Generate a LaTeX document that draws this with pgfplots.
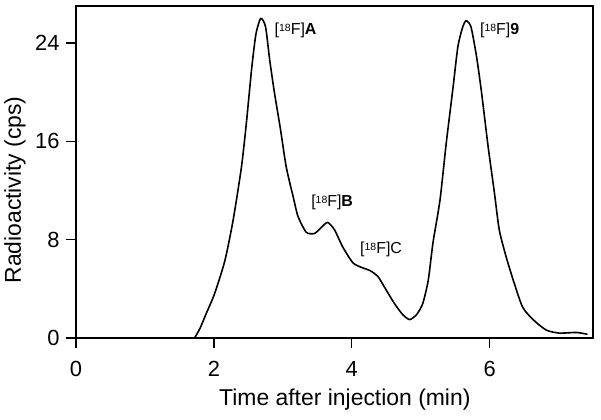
\documentclass[border=0pt]{standalone}
\usepackage{fontspec}
\setmainfont{Liberation Sans}
\usepackage{pgfplots}
\pgfplotsset{compat=1.18}
\newcommand{\ann}[1]{[{\fontsize{10.5}{10.5}\selectfont\raisebox{0.6ex}{18}}F]#1}
\begin{document}
\begin{tikzpicture}
\begin{axis}[
  width=517bp, height=332bp, scale only axis,
  xmin=0, xmax=7.5, ymin=0, ymax=27,
  xtick={0,2,4,6}, ytick={0,8,16,24},
  tick pos=left, tick align=outside, major tick length=10bp,
  axis line style={line width=1.5bp},
  every tick/.style={black, line width=1.3bp},
  /pgf/number format/assume math mode=true,
  ticklabel style={font=\fontsize{22}{24}\selectfont},
  xticklabel style={yshift=-10bp},
  yticklabel style={xshift=-3bp},
  label style={font=\fontsize{23}{26}\selectfont},
  xlabel={Time after injection (min)},
  ylabel={Radioactivity (cps)},
  xlabel style={at={(axis description cs:0.52,-0.202)}, anchor=base},
  ylabel style={at={(axis description cs:-0.118,0.446)}, anchor=center, rotate=0},
  clip=false,
]
\addplot[black, line width=1.6bp, smooth, tension=0.4, line join=round] coordinates {
(1.72,0) (1.80,0.8) (1.89,2.0) (2.01,3.6) (2.16,6.3) (2.28,9.6) (2.40,13.9) (2.47,17.4) (2.55,22.0) (2.61,24.7) (2.68,26.0) (2.75,25.3) (2.81,22.6) (2.88,19.9) (2.96,17.2) (3.05,13.9) (3.15,11.5) (3.22,9.9) (3.34,8.6) (3.46,8.5) (3.56,9.0) (3.65,9.4) (3.75,8.8) (3.87,7.4) (4.02,6.1) (4.16,5.7) (4.26,5.5) (4.38,5.0) (4.50,3.9) (4.62,2.8) (4.74,1.9) (4.84,1.5) (4.94,1.9) (5.03,2.8) (5.11,4.7) (5.18,7.8) (5.28,11.2) (5.37,15.8) (5.47,20.4) (5.54,23.7) (5.61,25.3) (5.66,25.8) (5.73,25.3) (5.81,22.9) (5.88,20.1) (5.98,15.5) (6.07,11.8) (6.14,8.8) (6.24,6.6) (6.36,4.4) (6.48,2.5) (6.63,1.5) (6.82,0.65) (7.01,0.4) (7.26,0.45) (7.42,0.3)
};
\begin{scope}[every node/.style={anchor=west, inner sep=0pt, font=\fontsize{16}{18}\selectfont}]
\node at (axis cs:2.88,25.0) {\ann{\textbf{A}}};
\node at (axis cs:5.86,25.0) {\ann{\textbf{9}}};
\node at (axis cs:3.41,11.0) {\ann{\textbf{B}}};
\node at (axis cs:4.12,7.2) {\ann{C}};
\end{scope}
\coordinate (sw) at (rel axis cs:0,0);
\coordinate (ne) at (rel axis cs:1,1);
\end{axis}
\pgfresetboundingbox
\path ([shift={(-76bp,-81bp)}]sw) rectangle ([shift={(8bp,6bp)}]ne);
\end{tikzpicture}
\end{document}
